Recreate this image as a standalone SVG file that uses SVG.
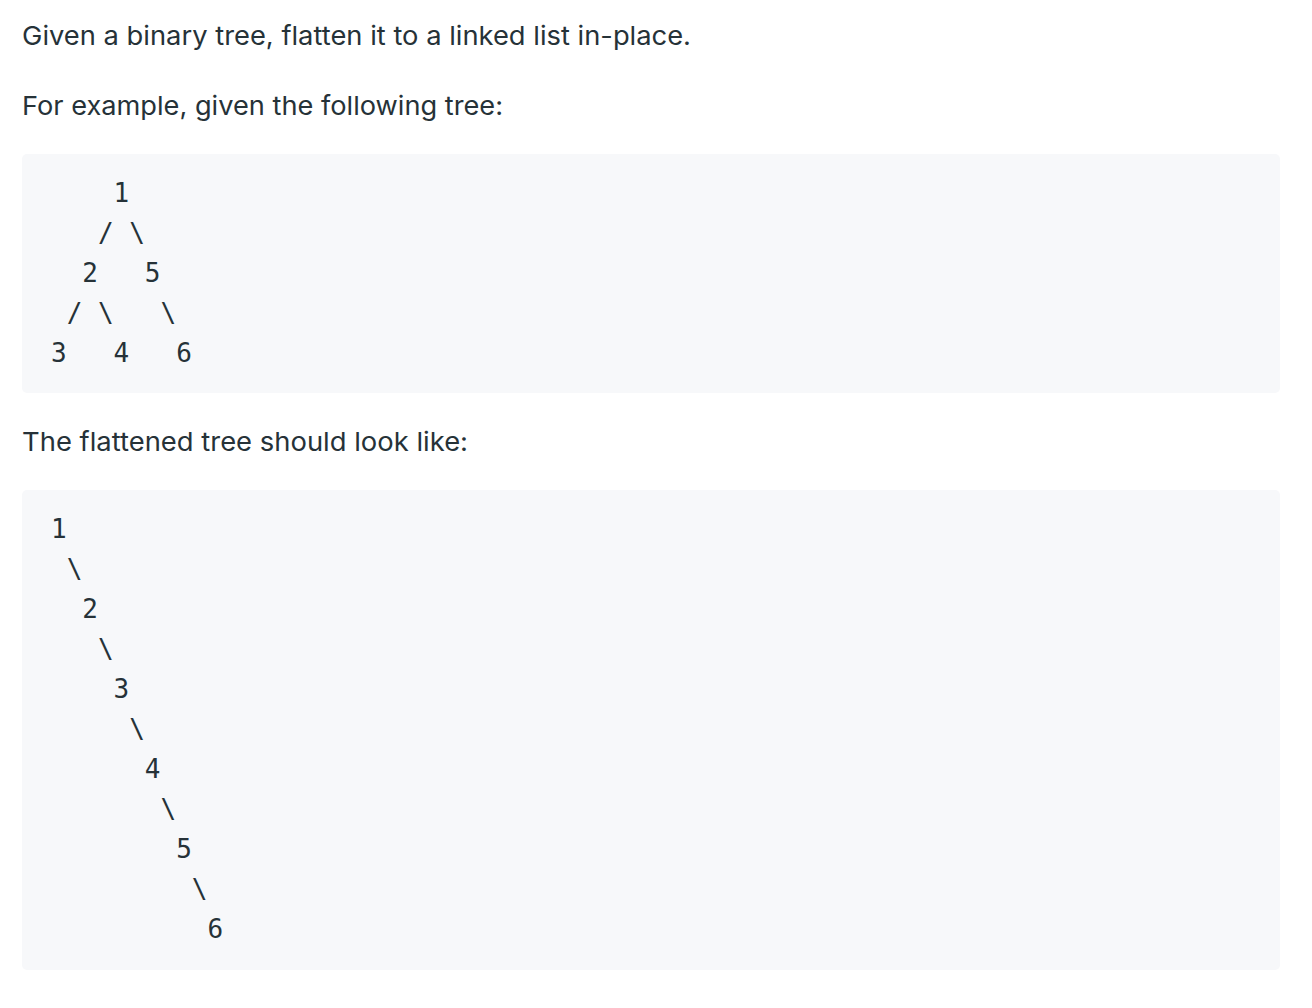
<svg xmlns="http://www.w3.org/2000/svg" width="1312" height="1008" viewBox="0 0 1312 1008">
<style>
.p{font-family:Inter,"Liberation Sans",sans-serif;font-size:26px;fill:#263238}
.m{font-family:"DejaVu Sans Mono","Liberation Mono",monospace;font-size:26px;fill:#263238;text-anchor:middle}
.blk{fill:#f7f8fa}
</style>
<rect width="1312" height="1008" fill="#ffffff"/>
<text class="p" x="22" y="45" textLength="669" lengthAdjust="spacingAndGlyphs">Given a binary tree, flatten it to a linked list in-place.</text>
<text class="p" x="22" y="115" textLength="481" lengthAdjust="spacingAndGlyphs">For example, given the following tree:</text>
<rect class="blk" x="22" y="154" width="1258" height="239" rx="5"/>
<g id="tree1">
<g id="t1-n1"><text class="m" x="121.4" y="202">1</text></g>
<g id="t1-n2"><text class="m" x="90.1" y="282">2</text></g>
<g id="t1-n5"><text class="m" x="152.7" y="282">5</text></g>
<g id="t1-n3"><text class="m" x="58.8" y="362">3</text></g>
<g id="t1-n4"><text class="m" x="121.4" y="362">4</text></g>
<g id="t1-n6"><text class="m" x="184" y="362">6</text></g>
<g id="t1-connectors">
<text class="m" x="105.8" y="242">/</text>
<text class="m" x="137.1" y="242">\</text>
<text class="m" x="74.5" y="322">/</text>
<text class="m" x="105.8" y="322">\</text>
<text class="m" x="168.4" y="322">\</text>
</g>
</g>
<text class="p" x="22" y="451" textLength="446" lengthAdjust="spacingAndGlyphs">The flattened tree should look like:</text>
<rect class="blk" x="22" y="490" width="1258" height="480" rx="5"/>
<g id="tree2">
<g id="t2-n1"><text class="m" x="58.8" y="538">1</text></g>
<g id="t2-n2"><text class="m" x="90.1" y="618">2</text></g>
<g id="t2-n3"><text class="m" x="121.4" y="698">3</text></g>
<g id="t2-n4"><text class="m" x="152.7" y="778">4</text></g>
<g id="t2-n5"><text class="m" x="184" y="858">5</text></g>
<g id="t2-n6"><text class="m" x="215.3" y="938">6</text></g>
<g id="t2-connectors">
<text class="m" x="74.5" y="578">\</text>
<text class="m" x="105.8" y="658">\</text>
<text class="m" x="137.1" y="738">\</text>
<text class="m" x="168.4" y="818">\</text>
<text class="m" x="199.7" y="898">\</text>
</g>
</g>
</svg>
